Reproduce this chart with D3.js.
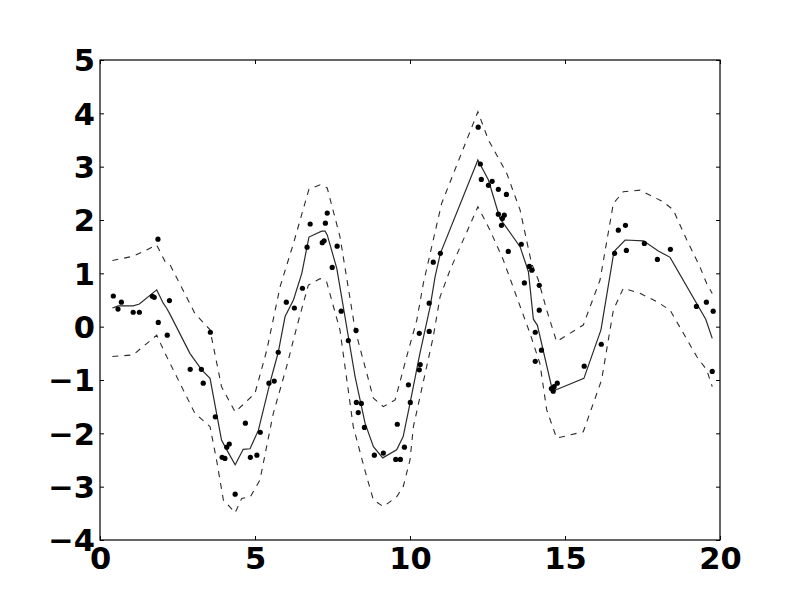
<!DOCTYPE html>
<html>
<head>
<meta charset="utf-8">
<script src="https://cdn.jsdelivr.net/npm/d3@7"></script>
<style>
  body { margin: 0; background: #fff; }
  svg { display: block; }
  text { font-family: "DejaVu Sans", sans-serif; font-weight: bold; }
</style>
</head>
<body>
<svg id="chart" width="800" height="600"></svg>
<script>
// Observed (noisy) samples
const obsX = [0.43,0.58,0.69,1.07,1.27,1.69,1.75,1.87,1.88,2.24,2.17,2.91,3.27,3.33,3.56,3.72,3.94,4.03,4.09,4.17,
  4.36,4.69,4.85,5.06,5.17,5.45,5.62,5.75,6.01,6.27,6.53,6.68,6.78,7.17,7.23,7.27,7.33,7.65,7.49,7.78,
  8.01,8.26,8.27,8.43,8.33,8.53,8.85,9.14,9.59,9.54,9.69,9.82,9.95,10.01,10.30,10.33,10.30,10.62,10.62,10.75,
  10.98,12.20,12.27,12.30,12.53,12.65,12.85,13.11,12.85,13.04,12.98,12.95,13.17,13.59,13.85,13.93,13.69,14.17,14.17,14.04,
  14.24,14.04,14.56,14.62,14.65,14.75,15.62,16.17,16.60,16.72,16.95,16.98,17.56,17.98,18.40,19.24,19.56,19.78,19.75];
const obsY = [0.575,0.33,0.46,0.27,0.27,0.57,0.55,1.64,0.08,0.49,-0.16,-0.80,-0.80,-1.06,-0.105,-1.69,-2.45,-2.47,-2.26,-2.20,
  -3.14,-1.81,-2.45,-2.41,-1.98,-1.06,-1.02,-0.48,0.46,0.35,0.72,1.49,1.925,1.575,1.61,1.94,2.13,1.51,1.11,0.29,
  -0.26,-0.07,-1.42,-1.44,-1.61,-1.89,-2.41,-2.37,-1.83,-2.49,-2.49,-2.26,-1.09,-1.42,-0.81,-0.71,-0.125,-0.09,0.44,1.21,
  1.375,3.74,3.05,2.76,2.65,2.725,2.575,2.48,2.11,2.09,2.03,1.90,1.41,1.545,1.13,1.06,0.82,0.775,0.31,-0.105,
  -0.44,-0.65,-1.16,-1.21,-1.125,-1.06,-0.74,-0.33,1.375,1.81,1.90,1.43,1.56,1.26,1.45,0.38,0.46,0.29,-0.84];

// Predicted mean
const meanX = [0.40,0.59,1.07,1.27,1.83,2.04,2.15,2.26,2.90,3.28,3.55,3.92,4.09,4.36,4.62,4.84,5.11,5.48,5.75,5.97,
  6.24,6.51,6.74,7.15,7.26,7.33,7.64,8.23,8.55,8.82,9.12,9.57,9.78,10.00,10.32,10.65,10.81,10.98,12.19,12.53,
  12.90,13.55,13.82,13.98,14.11,14.60,15.61,16.16,16.58,16.94,17.53,18.01,18.39,19.54,19.75];
const meanY = [0.35,0.39,0.39,0.425,0.69,0.44,0.345,0.23,-0.50,-0.81,-0.97,-2.125,-2.31,-2.59,-2.30,-2.29,-1.94,-1.06,-0.48,0.19,
  0.50,1.00,1.68,1.79,1.79,1.72,1.09,-0.94,-1.81,-2.25,-2.46,-2.31,-2.06,-1.44,-0.50,0.375,0.94,1.375,3.125,2.75,
  2.03,1.50,1.03,0.14,0.025,-1.21,-0.97,-0.06,1.41,1.625,1.61,1.42,1.30,0.14,-0.22];

// Upper confidence bound
const upperX = [0.40,1.07,1.83,2.10,2.26,3.06,3.55,3.92,4.36,5.00,5.38,5.81,6.24,6.74,7.10,7.33,7.74,8.23,8.82,9.14,
  9.52,9.95,10.22,10.43,10.75,11.02,12.19,12.53,13.12,13.55,13.92,14.14,14.41,14.73,15.59,16.13,16.56,16.88,17.42,18.17,
  18.49,18.93,19.35,19.57,19.75];
const upperY = [1.24,1.32,1.53,1.22,1.16,0.25,-0.06,-1.125,-1.60,-1.25,-0.44,0.75,1.56,2.575,2.66,2.60,1.69,-0.06,-1.34,-1.50,
  -1.375,-0.44,0.125,0.81,1.625,2.31,4.03,3.50,2.875,2.19,1.19,0.875,0.31,-0.28,0.03,0.875,2.31,2.53,2.56,2.34,
  2.19,1.625,1.125,0.81,0.62];

// Lower confidence bound
const lowerX = [0.40,1.07,1.83,2.10,3.06,3.55,3.76,3.98,4.36,4.57,4.85,5.16,5.59,6.02,6.35,6.72,7.10,7.31,7.74,8.17,
  8.60,8.82,9.14,9.57,9.78,10.00,10.11,10.75,10.97,11.29,12.19,12.58,13.01,13.44,13.87,14.19,14.41,14.73,15.59,16.18,
  16.56,16.88,17.42,17.96,18.39,19.25,19.57,19.75];
const lowerY = [-0.56,-0.53,-0.16,-0.50,-1.625,-1.875,-2.50,-3.25,-3.49,-3.22,-3.19,-2.875,-1.625,-0.75,0.00,0.78,0.90,0.84,-0.06,-1.875,
  -2.81,-3.25,-3.375,-3.19,-3.00,-2.50,-1.875,-0.19,0.56,1.06,2.25,1.81,1.25,0.56,-0.125,-0.69,-1.56,-2.09,-1.97,-1.00,
  0.31,0.72,0.625,0.47,0.31,-0.56,-0.81,-1.125];

const xTicks = [0,5,10,15,20];
const yTicks = [-4,-3,-2,-1,0,1,2,3,4,5];

const svg = d3.select("#chart");
const mLeft = 100, mRight = 720, mTop = 60, mBottom = 540;
const x = d3.scaleLinear().domain([0,20]).range([mLeft,mRight]);
const y = d3.scaleLinear().domain([-4,5]).range([mBottom,mTop]);

const line = d3.line().x(d => x(d[0])).y(d => y(d[1]));
const zip = (a,b) => a.map((v,i) => [v,b[i]]);

const plot = svg.append("g");
plot.append("path").datum(zip(upperX, upperY)).attr("d", line)
  .attr("fill","none").attr("stroke","#2b2b2b").attr("stroke-width",1.1).attr("stroke-dasharray","6,6");
plot.append("path").datum(zip(lowerX, lowerY)).attr("d", line)
  .attr("fill","none").attr("stroke","#2b2b2b").attr("stroke-width",1.1).attr("stroke-dasharray","6,6");
plot.append("path").datum(zip(meanX, meanY)).attr("d", line)
  .attr("fill","none").attr("stroke","#2b2b2b").attr("stroke-width",1.2);
plot.selectAll("circle").data(zip(obsX, obsY)).enter().append("circle")
  .attr("cx", d => x(d[0])).attr("cy", d => y(d[1])).attr("r", 2.6).attr("fill","#000");

// Axes (ticks inside, on all four sides)
const fmt = d3.format("d");
const axB = d3.axisBottom(x).tickValues(xTicks).tickSize(-4).tickPadding(7).tickFormat(fmt);
const axT = d3.axisTop(x).tickValues(xTicks).tickSize(-4).tickFormat("");
const axL = d3.axisLeft(y).tickValues(yTicks).tickSize(-4).tickPadding(5).tickFormat(fmt);
const axR = d3.axisRight(y).tickValues(yTicks).tickSize(-4).tickFormat("");

function style(g) {
  g.select(".domain").remove();
  g.selectAll(".tick line").attr("stroke","#000").attr("stroke-width",1);
  g.selectAll(".tick text").attr("fill","#000").style("font-size","30.5px").style("font-weight","bold")
    .style("font-family","'DejaVu Sans', sans-serif");
}
svg.append("g").attr("transform",`translate(0,${mBottom})`).call(axB).call(style)
  .selectAll(".tick text").attr("dy","0.71em");
svg.append("g").attr("transform",`translate(0,${mTop})`).call(axT).call(style);
svg.append("g").attr("transform",`translate(${mLeft},0)`).call(axL).call(style)
  .selectAll(".tick text").attr("dy","0.36em");
svg.append("g").attr("transform",`translate(${mRight},0)`).call(axR).call(style);

svg.append("rect").attr("x",mLeft).attr("y",mTop).attr("width",mRight-mLeft).attr("height",mBottom-mTop)
  .attr("fill","none").attr("stroke","#000").attr("stroke-width",1.2);
</script>
</body>
</html>
